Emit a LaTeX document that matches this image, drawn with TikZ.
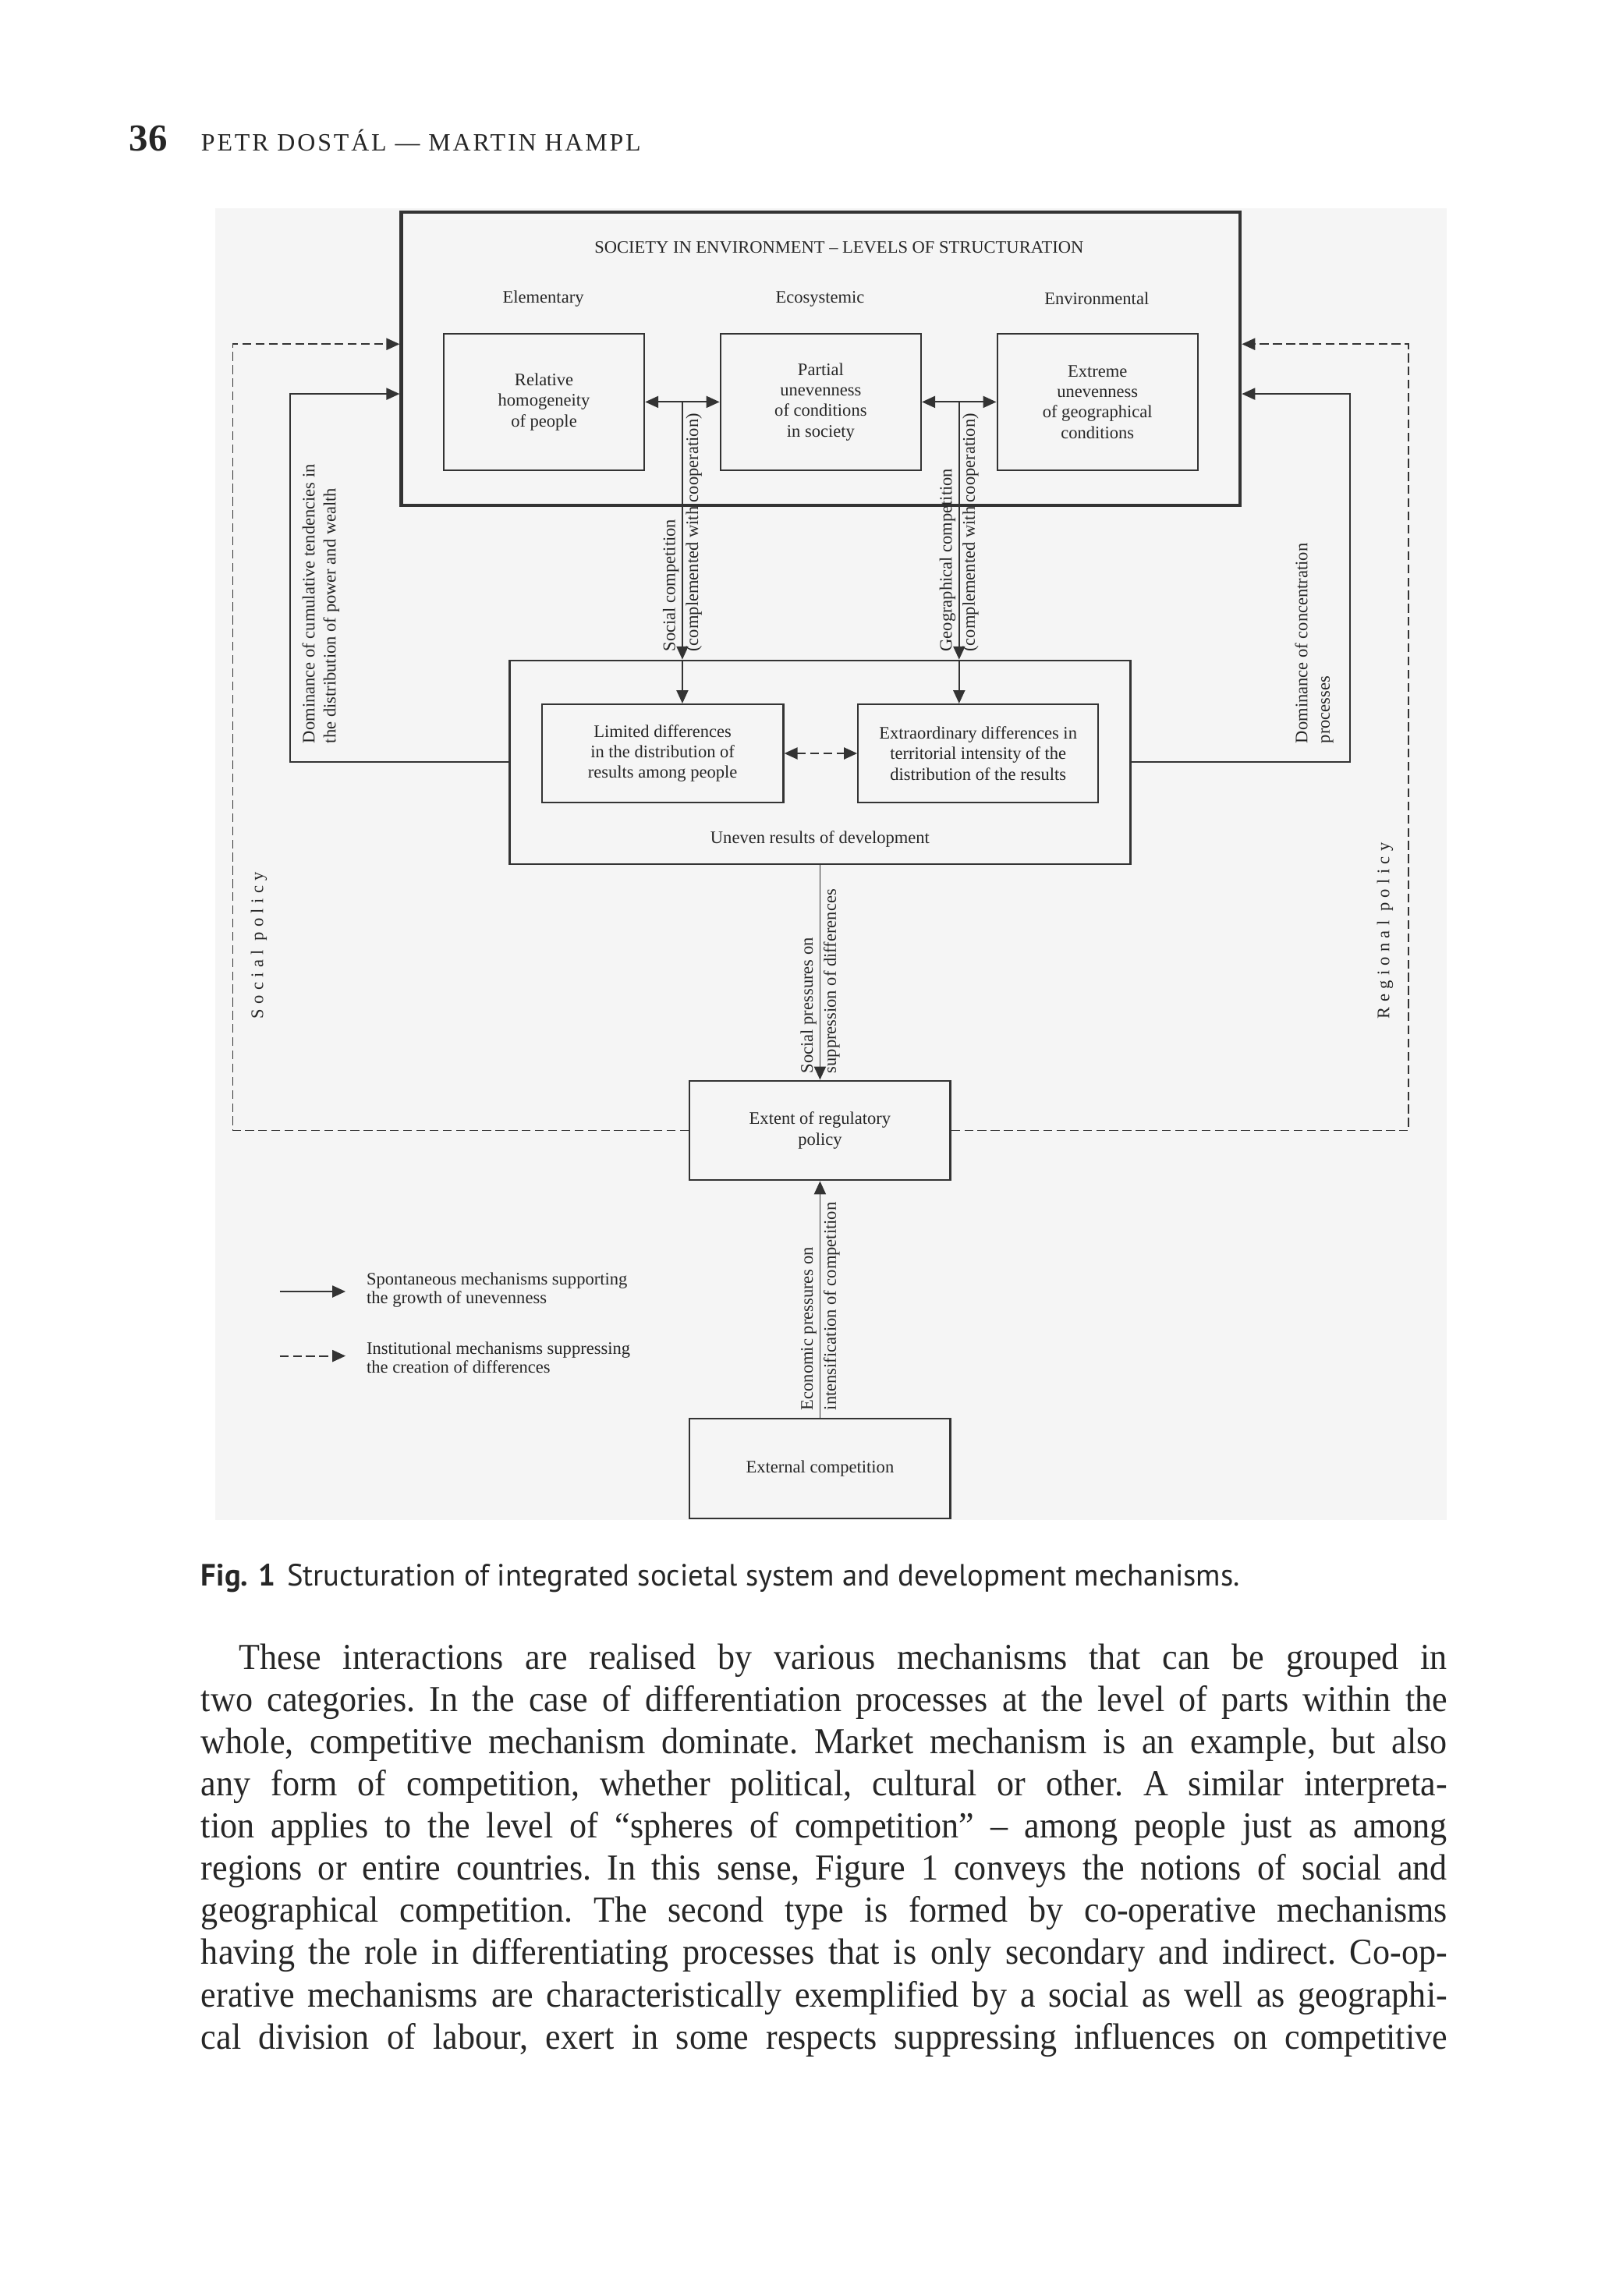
\documentclass[tikz,border=0pt]{standalone}
\usepackage{fontspec}
\setmainfont{Liberation Serif}
\newfontfamily\capfont[FakeStretch=0.98]{PT Sans}
\newfontfamily\bodyfont[FakeStretch=0.94]{Liberation Serif}
\newfontfamily\headfont[LetterSpace=9]{Liberation Serif}
\newfontfamily\spacedfont[LetterSpace=28]{Liberation Serif}
\usetikzlibrary{arrows.meta,calc}

\begin{document}
\begin{tikzpicture}[x=0.5pt, y=-0.5pt, >={Triangle[length=4.5pt, width=4pt]},
        every node/.style={text=black!85},
        box/.style={draw=black!80, line width=0.6pt, align=center, inner sep=1pt, font=\fontsize{6}{7}\selectfont},
        txt/.style={inner sep=0.5pt, align=center, font=\fontsize{6}{7}\selectfont},
        lab/.style={inner sep=0.5pt, rotate=90, align=left, font=\fontsize{6}{7}\selectfont},
        spont/.style={->, draw=black!80, line width=0.5pt},
        inst/.style={->, draw=black!80, line width=0.5pt, dash pattern=on 3pt off 1.5pt}]

    \fill[white](0, 0) rectangle (1091, 1568);
    \useasboundingbox(0, 0) rectangle (1091, 1568);
    \fill[black!4](147, 142) rectangle (988, 1038);

    \node[anchor=base west, inner sep=0, font=\fontsize{13}{15}\selectfont\bfseries](pgnum) at(88, 103){36};
    \node[anchor=base west, inner sep=0, font=\headfont\fontsize{8.5}{10}\selectfont](runhead) at(137, 103){PETR DOSTÁL — MARTIN HAMPL};

    \node[box, line width=1.1pt, minimum width=286.5pt, minimum height=100pt](society) at(560.5, 245){};
        \node[txt](title) at(573, 169){SOCIETY IN ENVIRONMENT – LEVELS OF STRUCTURATION};
        \node[txt](lvelem) at(371, 204){Elementary};
        \node[txt](lveco) at(560, 204){Ecosystemic};
        \node[txt](lvenv) at(749, 204){Environmental};

        \node[box, minimum width=68.5pt, minimum height=46.5pt](elem) at(371.5, 274.5){Relative\\homogeneity\\of people};
        \node[box, minimum width=68.5pt, minimum height=46.5pt](eco) at(560.5, 274.5){Partial\\unevenness\\of conditions\\in society};
        \node[box, minimum width=68.5pt, minimum height=46.5pt](env) at(749.5, 274.5){Extreme\\unevenness\\of geographical\\conditions};
            \draw[spont, <->](elem) to (eco);
            \draw[spont, <->](eco) to (env);

    \node[box, minimum width=212pt, minimum height=69.5pt](results) at(560, 520.5){};
        \node[txt](restxt) at(560, 573){Uneven results of development};
        \node[box, minimum width=82.5pt, minimum height=33.5pt](limited) at(452.5, 514.5){Limited differences\\in the distribution of\\results among people};
        \node[box, minimum width=82pt, minimum height=33.5pt](extra) at(668, 514.5){Extraordinary differences in\\territorial intensity of the\\distribution of the results};
            \draw[inst, <->](limited) to (extra);

    \coordinate(m1) at($(elem.east)!0.5!(eco.west)$);
    \coordinate(m2) at($(eco.east)!0.5!(env.west)$);
        \draw[spont](m1) to (m1 |- results.north);
        \draw[spont](m1 |- results.north) to (m1 |- limited.north);
            \node[lab, anchor=south west](soccomp) at($(m1 |- results.north)+(-1, -4)$){Social competition};
            \node[lab, anchor=north west](soccoop) at($(m1 |- results.north)+(1, -4)$){(complemented with cooperation)};
        \draw[spont](m2) to (m2 |- results.north);
        \draw[spont](m2 |- results.north) to (m2 |- extra.north);
            \node[lab, anchor=south west](geocomp) at($(m2 |- results.north)+(-1, -4)$){Geographical competition};
            \node[lab, anchor=north west](geocoop) at($(m2 |- results.north)+(1, -4)$){(complemented with cooperation)};

    \coordinate(sl) at(198, 269);
        \draw[spont](results.west) -| (sl) to (society.west |- sl);
            \node[lab, anchor=north west, font=\fontsize{6}{7.2}\selectfont](cumul) at(205, 509){Dominance of cumulative tendencies in\\the distribution of power and wealth};
    \coordinate(sr) at(922, 269);
        \draw[spont](results.east) -| (sr) to (society.east |- sr);
            \node[lab, anchor=north west, font=\fontsize{6}{7.6}\selectfont](concen) at(883, 509){Dominance of concentration\\processes};

    \node[box, minimum width=89pt, minimum height=34pt](regul) at(560, 772){Extent of regulatory\\policy};
        \draw[spont](results) to (regul);
            \node[lab, anchor=south west](socpress) at($(regul.north)+(-1, -3)$){Social pressures on};
            \node[lab, anchor=north west](suppr) at($(regul.north)+(1, -3)$){suppression of differences};

    \coordinate(dl) at(159, 235);
        \draw[inst](regul.west) -| (dl) to (society.west |- dl);
            \node[lab, anchor=north west, font=\spacedfont\fontsize{6}{7}\selectfont](socpol) at(170, 697){Social policy};
    \coordinate(dr) at(962, 235);
        \draw[inst](regul.east) -| (dr) to (society.east |- dr);
            \node[lab, anchor=north west, font=\spacedfont\fontsize{6}{7}\selectfont](regpol) at(939, 697){Regional policy};

    \node[box, minimum width=89pt, minimum height=34pt](extern) at(560, 1003){External competition};
        \draw[spont](extern) to (regul);
            \node[lab, anchor=south west](econ) at($(extern.north)+(-1, -4)$){Economic pressures on};
            \node[lab, anchor=north west](intens) at($(extern.north)+(1, -4)$){intensification of competition};

    \coordinate(lg1a) at(191, 882);
    \coordinate(lg1b) at(236, 882);
        \draw[spont](lg1a) to (lg1b);
        \node[txt, anchor=west, align=left, font=\fontsize{6}{6.5}\selectfont](lg1) at(249, 881){Spontaneous mechanisms supporting\\the growth of unevenness};
    \coordinate(lg2a) at(191, 926);
    \coordinate(lg2b) at(236, 926);
        \draw[inst](lg2a) to (lg2b);
        \node[txt, anchor=west, align=left, font=\fontsize{6}{6.5}\selectfont](lg2) at(249, 927){Institutional mechanisms suppressing\\the creation of differences};

    \node[anchor=base west, inner sep=0, font=\capfont\fontsize{10.5}{12}\selectfont](caption) at(137, 1083){\textbf{Fig. 1}\hspace{4pt}Structuration of integrated societal system and development mechanisms.};

    \node[anchor=base west, inner sep=0](bodytext) at(137, 1140){\parbox[t]{425.5pt}{\bodyfont\fontsize{12.5}{14.4}\selectfont\frenchspacing
        \tolerance=9999 \hyphenpenalty=10000 \exhyphenpenalty=10000 \parfillskip=0pt
        \hspace*{13pt}These interactions are realised by various mechanisms that can be grouped in\linebreak
        two categories. In the case of differentiation processes at the level of parts within the\linebreak
        whole, competitive mechanism dominate. Market mechanism is an example, but also\linebreak
        any form of competition, whether political, cultural or other. A similar interpreta-\linebreak
        tion applies to the level of “spheres of competition” – among people just as among\linebreak
        regions or entire countries. In this sense, Figure 1 conveys the notions of social and\linebreak
        geographical competition. The second type is formed by co-operative mechanisms\linebreak
        having the role in differentiating processes that is only secondary and indirect. Co-op-\linebreak
        erative mechanisms are characteristically exemplified by a social as well as geographi-\linebreak
        cal division of labour, exert in some respects suppressing influences on competitive\par}};

\end{tikzpicture}
\end{document}
